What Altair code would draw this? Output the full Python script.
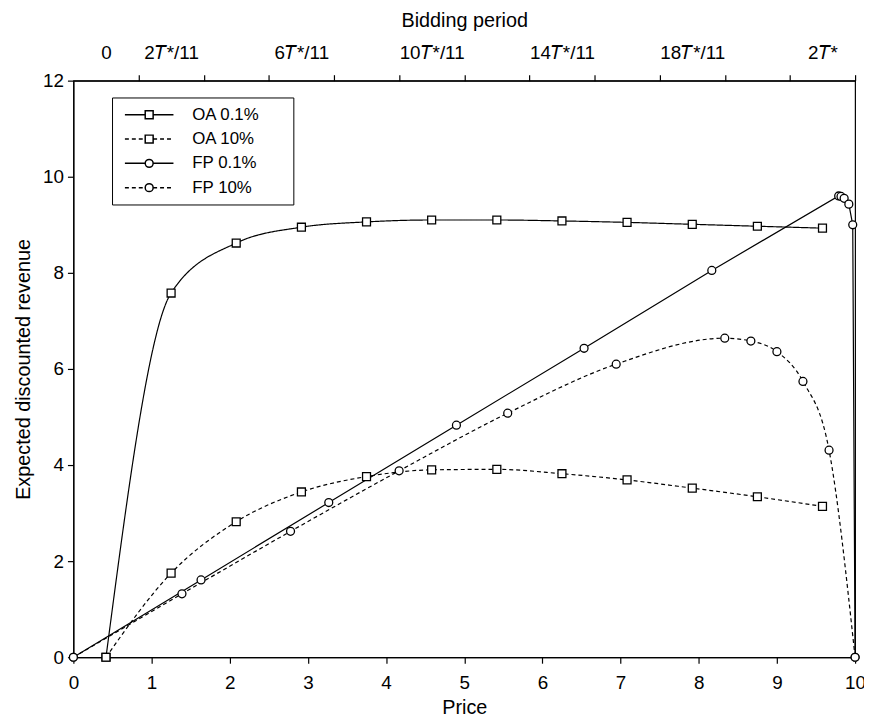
import altair as alt
import pandas as pd

# ---- data ----
series_names = ["OA 0.1%", "OA 10%", "FP 0.1%", "FP 10%"]

oa_price = [0.417, 1.25, 2.083, 2.917, 3.75, 4.583, 5.417, 6.25, 7.083, 7.917, 8.75, 9.583]
oa_01 = [0.0, 7.58, 8.62, 8.95, 9.06, 9.10, 9.10, 9.08, 9.05, 9.01, 8.97, 8.93]
oa_10 = [0.0, 1.75, 2.82, 3.44, 3.76, 3.90, 3.91, 3.82, 3.69, 3.52, 3.34, 3.14]

fp01_price = [0.0, 1.633, 3.267, 4.9, 6.533, 8.167, 9.79, 9.82, 9.86, 9.92, 9.97, 10.0]
fp01 = [0.0, 1.61, 3.22, 4.83, 6.43, 8.05, 9.60, 9.59, 9.55, 9.43, 9.00, 0.0]

fp10_price = [0.0, 1.389, 2.778, 4.167, 5.556, 6.944, 8.333, 8.667, 9.0, 9.333, 9.667, 10.0]
fp10 = [0.0, 1.32, 2.62, 3.88, 5.08, 6.10, 6.64, 6.58, 6.36, 5.74, 4.31, 0.0]

x_ticks = list(range(0, 11))
y_ticks = [0, 2, 4, 6, 8, 10, 12]

# top axis: bidding period (12 equal divisions of the frame)
bidding_ticks = list(range(1, 13))
bidding_label_pos = [1, 2, 4, 6, 8, 10, 12]
bidding_labels = ["0", "2𝑇*/11", "6𝑇*/11", "10𝑇*/11", "14𝑇*/11", "18𝑇*/11", "2𝑇*"]

# ---- build table ----
rows = []
for name, xs, ys in [
    (series_names[0], oa_price, oa_01),
    (series_names[1], oa_price, oa_10),
    (series_names[2], fp01_price, fp01),
    (series_names[3], fp10_price, fp10),
]:
    for xv, yv in zip(xs, ys):
        rows.append({"series": name, "price": xv, "revenue": yv})
df = pd.DataFrame(rows)
top_df = pd.DataFrame({"u": bidding_ticks})

FONT = "Liberation Sans"

# legend symbol paths: line with marker in the middle (1 unit = 4 px)
L0, L1, MC = -1.125, 11.125, 5.0


def seg(a, b, dashed):
    if not dashed:
        return f"M{a},0L{b},0"
    out, s = [], a
    while s < b - 0.2:
        e = min(s + 1.0, b)
        out.append(f"M{round(s, 3)},0L{round(e, 3)},0")
        s = e + 0.75
    return "".join(out)


def sym(dashed, circle):
    line = seg(L0, MC - 1, dashed) + seg(MC + 1, L1, dashed)
    if circle:
        mk = f"M{MC+1},0A1,1 0 1,1 {MC-1},0A1,1 0 1,1 {MC+1},0Z"
    else:
        mk = f"M{MC-1},-1L{MC+1},-1L{MC+1},1L{MC-1},1Z"
    return line + mk


legend_paths = [sym(False, False), sym(True, False), sym(False, True), sym(True, True)]

xscale = alt.Scale(domain=[0, 10], nice=False, zero=False)
yscale = alt.Scale(domain=[0, 12], nice=False)

x_axis_enc = alt.X(
    "price:Q", scale=xscale,
    axis=alt.Axis(values=x_ticks, title="Price", labelFlush=False, labelPadding=11,
                  titlePadding=5, tickSize=6),
)
x_plain = alt.X("price:Q", scale=xscale, axis=None)
y_enc = alt.Y(
    "revenue:Q", scale=yscale,
    axis=alt.Axis(values=y_ticks, title="Expected discounted revenue", labelPadding=4,
                  titlePadding=9, tickSize=6),
)

base = alt.Chart(df)
dash_scale = alt.Scale(domain=series_names, range=[[1, 0], [4, 3], [1, 0], [4, 3]])

curves = base.transform_filter(
    alt.FieldOneOfPredicate(field="series", oneOf=[series_names[0], series_names[1], series_names[3]])
).mark_line(color="black", strokeWidth=1.2, interpolate="monotone", clip=False).encode(
    x=x_axis_enc, y=y_enc, detail="series:N",
    strokeDash=alt.StrokeDash("series:N", scale=dash_scale, legend=None),
)

straight = base.transform_filter(
    alt.FieldEqualPredicate(field="series", equal=series_names[2])
).mark_line(color="black", strokeWidth=1.2, interpolate="linear", clip=False).encode(
    x=x_plain, y=y_enc, detail="series:N",
)

squares = base.transform_filter(
    alt.FieldOneOfPredicate(field="series", oneOf=series_names[:2])
).mark_point(shape="square", size=64, color="black", fill="white", filled=False,
             strokeWidth=1.3, opacity=1, clip=False).encode(x=x_plain, y=y_enc)

circles = base.transform_filter(
    alt.FieldOneOfPredicate(field="series", oneOf=series_names[2:])
).mark_point(shape="circle", size=64, color="black", fill="white", filled=False,
             strokeWidth=1.3, opacity=1, clip=False).encode(x=x_plain, y=y_enc)

legend_layer = base.transform_filter("false").mark_point(
    color="black", fill="white", filled=False, strokeWidth=1.2, opacity=1
).encode(
    shape=alt.Shape(
        "series:N",
        scale=alt.Scale(domain=series_names, range=legend_paths),
        legend=alt.Legend(
            title=None, orient="none", legendX=39, legendY=17, direction="vertical",
            strokeColor="black", padding=9, cornerRadius=0,
            symbolSize=64, labelOffset=55,
            labelFont=FONT, labelFontSize=17, labelColor="black", rowPadding=6.5,
            labelExpr="datum.label + '" + "\u2800" * 2 + "'",
        ),
    )
)

label_expr = " : ".join(
    f"datum.value == {p} ? '{l}'" for p, l in zip(bidding_label_pos, bidding_labels)
) + " : ''"

top_layer = alt.Chart(top_df).mark_point(opacity=0).encode(
    x=alt.X(
        "u:Q",
        scale=alt.Scale(domain=[0, 12], nice=False, zero=False),
        axis=alt.Axis(orient="top", values=bidding_ticks, labelExpr=label_expr,
                      labelOffset=-32.9, labelOverlap=False, labelFlush=False,
                      title="Bidding period", labelPadding=12, titlePadding=14, tickSize=6),
    )
)

chart = alt.layer(curves, straight, squares, circles, legend_layer, top_layer).resolve_scale(
    x="independent", shape="independent"
).properties(
    width=789, height=582,
    autosize=alt.AutoSizeParams(type="none"),
    padding={"left": 66, "top": 70, "right": 9, "bottom": 58},
).configure_view(
    stroke="black", strokeWidth=1.2
).configure_axis(
    grid=False, domainColor="black", tickColor="black", labelColor="black",
    titleColor="black", labelFont=FONT, titleFont=FONT, labelFontSize=19,
    titleFontSize=20, titleFontWeight="normal", domainWidth=1.2, tickWidth=1.2,
)

chart.save("out.html", embed_options={"renderer": "svg", "actions": False})
